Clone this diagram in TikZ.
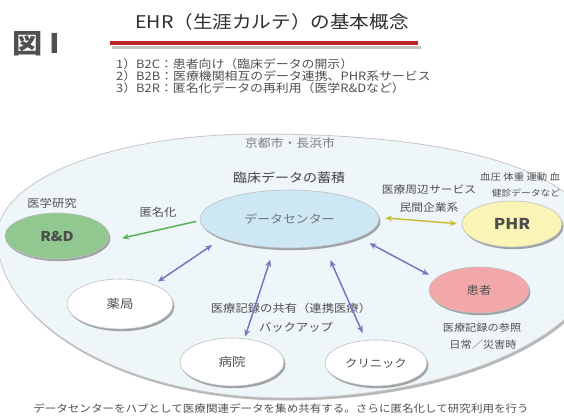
\documentclass[tikz,border=0pt]{standalone}
\usepackage{fontspec}
\setmainfont{Noto Sans CJK JP}[FakeStretch=1.12]
\usetikzlibrary{shapes.geometric,arrows.meta,shadows}
\definecolor{txt}{RGB}{80,80,80}
\definecolor{ttl}{RGB}{45,45,45}
\definecolor{lite}{RGB}{125,125,125}
\definecolor{regionfill}{RGB}{238,246,250}
\definecolor{dcfill}{RGB}{205,232,244}
\definecolor{rdfill}{RGB}{144,200,144}
\definecolor{phrfill}{RGB}{250,244,182}
\definecolor{ptfill}{RGB}{242,168,168}
\definecolor{arpurple}{RGB}{120,120,192}
\definecolor{argreen}{RGB}{88,180,88}
\definecolor{arolive}{RGB}{200,190,60}
\definecolor{redline}{RGB}{190,38,44}
\tikzset{
  fs/.style={font=\fontsize{#1}{#1}\selectfont},
  lbl/.style={inner sep=0, text=txt},
  bub/.style={ellipse, draw=gray!50, line width=0.6pt, inner sep=0, text=txt,
    drop shadow={shadow xshift=1.5pt, shadow yshift=-2.2pt, opacity=0.45, fill=black!75}},
  link/.style={line width=1.5pt, <->, >={Stealth[length=7pt,width=6pt]}},
  onelink/.style={line width=1.5pt, ->, >={Stealth[length=7pt,width=6pt]}},
}
\begin{document}
\begin{tikzpicture}[x=1pt,y=-1pt]
\useasboundingbox (0,0) rectangle (564,419);
\clip (0,0) rectangle (564,419);
\fill[white] (0,0) rectangle (564,419);

% header
\node[lbl, text=txt, font=\bfseries\fontsize{27}{27}\selectfont] (fig) at (36,44) {図 I};
\node[lbl, fs=17.5, text=ttl] (title) at (272,22) {EHR（生涯カルテ）の基本概念};
\draw[line width=3.5pt, black!45, opacity=0.5] (112,47.5) -- (421,47.5);
\draw[line width=3.5pt, redline] (110,43) -- (418,43);
\node[lbl, fs=11.5, anchor=west] (l1) at (116,64) {1）B2C：患者向け（臨床データの開示）};
\node[lbl, fs=11.5, anchor=west] (l2) at (116,76) {2）B2B：医療機関相互のデータ連携、PHR系サービス};
\node[lbl, fs=11.5, anchor=west] (l3) at (116,88) {3）B2R：匿名化データの再利用（医学R\&Dなど）};

% big region
\path[fill=regionfill, draw=gray!45, line width=0.8pt,
  drop shadow={shadow xshift=1.5pt, shadow yshift=-2.5pt, opacity=0.4, fill=black!70}]
  (-3,237) .. controls (-3,180) and (110,134) .. (260,134)
  .. controls (470,134) and (600,175) .. (600,255)
  .. controls (600,330) and (460,398) .. (285,398)
  .. controls (120,398) and (-3,320) .. (-3,237) -- cycle;

\node[lbl, fs=11.5, text=lite] (city) at (290,143) {京都市・長浜市};
\node[lbl, fs=12.5, text=ttl!90] (accum) at (289,178) {臨床データの蓄積};

% nodes
\node[bub, fill=dcfill, minimum width=179pt, minimum height=58pt, text=txt!80, fs=11.5] (dc) at (289.5,219) {データセンター};
\node[lbl, fs=11] (med) at (52,203) {医学研究};
\node[bub, fill=rdfill, minimum width=104pt, minimum height=46pt, text=txt!95!black, font=\bfseries\fontsize{13.5}{13.5}\selectfont] (rd) at (57,236) {R\&D};
\node[lbl, fs=11] (anon) at (158,212) {匿名化};
\node[lbl, fs=10.5] (svc1) at (429,190) {医療周辺サービス};
\node[lbl, fs=10.5] (svc2) at (429,208) {民間企業系};
\node[lbl, fs=9.3, anchor=west] (vit1) at (480,177) {血圧 体重 運動 血};
\node[lbl, fs=8.7] (vit2) at (526,193) {健診データなど};
\node[bub, fill=phrfill, minimum width=100pt, minimum height=46pt, text=txt!95!black, font=\bfseries\fontsize{15}{15}\selectfont] (phr) at (512,224) {PHR};
\node[bub, fill=white, minimum width=106pt, minimum height=50pt, fs=12] (yaku) at (120,304) {薬局};
\node[lbl, fs=11] (share1) at (291,308) {医療記録の共有（連携医療）};
\node[lbl, fs=11] (share2) at (296,327) {バックアップ};
\node[bub, fill=ptfill, minimum width=100pt, minimum height=46pt, fs=11] (pt) at (479,290) {患者};
\node[lbl, fs=10] (ref1) at (482,328) {医療記録の参照};
\node[lbl, fs=10] (ref2) at (483,345) {日常／災害時};
\node[bub, fill=white, minimum width=104pt, minimum height=48pt, fs=12] (hos) at (232,362) {病院};
\node[bub, fill=white, minimum width=102pt, minimum height=46pt, fs=11] (cli) at (376,363) {クリニック};

% connectors
\draw[onelink, argreen, shorten <=3.5pt, shorten >=14.5pt] (dc.181.5) -- (rd.354);
\draw[link, arolive, shorten <=6pt, shorten >=5pt] (dc.1) -- (phr.180);
\draw[link, arpurple, shorten <=12pt, shorten >=5pt] (dc.196) -- (yaku.30);
\draw[link, arpurple, shorten <=12.5pt, shorten >=2pt] (dc.242) -- (hos.62);
\draw[link, arpurple, shorten <=15.5pt, shorten >=8pt] (dc.322) -- (cli.114);
\draw[link, arpurple, shorten <=12pt, shorten >=7.5pt] (dc.345) -- (pt.165);

% caption
\node[lbl, fs=10.3] (cap) at (281,409) {データセンターをハブとして医療関連データを集め共有する。さらに匿名化して研究利用を行う};
\end{tikzpicture}
\end{document}
